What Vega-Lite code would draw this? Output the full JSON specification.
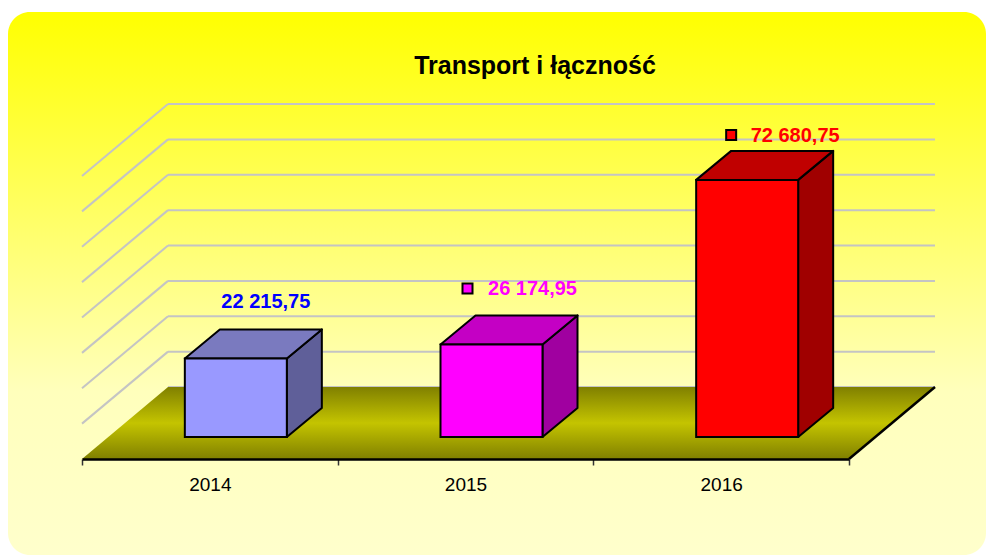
{
"$schema":"https://vega.github.io/schema/vega-lite/v6.json",
"width":978,"height":543,
"padding":{"left":8,"top":12,"right":0,"bottom":0},
"autosize":{"type":"none"},
"background":"white",
"view":{"stroke":null,"cornerRadius":22,"fill":{"gradient":"linear","x1":0,"y1":0,"x2":0,"y2":1,"stops":[{"offset":0,"color":"#FFFF00"},{"offset":0.7,"color":"#FFFFBC"},{"offset":1,"color":"#FFFFCC"}]}},
"title":{"text":"Transport i łączność","font":"Liberation Sans","fontSize":25,"fontWeight":"bold","color":"black","anchor":"middle","dx":38,"offset":-87,"baseline":"alphabetic"},
"datasets":{
"bars":[{"year":2014,"value":22215.75,"label":"22 215,75"},{"year":2015,"value":26174.95,"label":"26 174,95"},{"year":2016,"value":72680.75,"label":"72 680,75"}],
"grid":[{"v":0},{"v":10000},{"v":20000},{"v":30000},{"v":40000},{"v":50000},{"v":60000},{"v":70000},{"v":80000}]
},
"encoding":{
"y":{"field":"value","type":"quantitative","stack":null,"title":null,"axis":null,"scale":{"domain":[0,80000],"range":[447,164],"nice":false,"zero":false}}
},
"layer":[
{"data":{"name":"grid"},"mark":{"type":"rule","stroke":"#C4C4C4","strokeWidth":2,"xOffset":86,"x2Offset":86,"yOffset":-72,"y2Offset":-72},
 "encoding":{"x":{"datum":2013.5,"type":"quantitative","title":null,"scale":{"domain":[2013.5,2016.5],"range":[74,841],"nice":false,"zero":false,"padding":0},
"axis":{"title":null,"values":[2013.5,2014,2014.5,2015,2015.5,2016,2016.5],"orient":"bottom","offset":-96,"zindex":1,"grid":false,"domainColor":"black","domainWidth":2.5,"tickColor":"#333333","tickWidth":1.5,"tickSize":6,"tickOpacity":{"condition":{"test":"datum.value % 1 == 0","value":0},"value":1},"labelExpr":"datum.value % 1 == 0 ? '' + datum.value : ''","labelOverlap":false,"labelFont":"Liberation Sans","labelFontSize":19,"labelColor":"black","labelPadding":10,"labelFlush":false}},"x2":{"datum":2016.5},"y":{"field":"v","type":"quantitative"}}},
{"data":{"name":"grid"},"transform":[{"filter":"datum.v > 0"}],"mark":{"type":"rule","stroke":"#C4C4C4","strokeWidth":2,"x2Offset":86,"y2Offset":-72},
 "encoding":{"x":{"datum":2013.5,"type":"quantitative","title":null},"x2":{"datum":2013.5},"y":{"field":"v","type":"quantitative"},"y2":{"field":"v"}}},
{"data":{"values":[{"v":0}]},"mark":{"type":"point","filled":true,"opacity":1,"size":4,"shape":"M0,0L767,0L853,-72L86,-72Z","fill":{"gradient":"linear","x1":0,"y1":0,"x2":0,"y2":1,"stops":[{"offset":0,"color":"#808000"},{"offset":0.5,"color":"#C4C400"},{"offset":1,"color":"#808000"}]}},
 "encoding":{"x":{"datum":2013.5,"type":"quantitative","title":null},"y":{"field":"v","type":"quantitative"}}},
{"data":{"values":[{"v":0}]},"mark":{"type":"rule","stroke":"black","strokeWidth":2.5,"x2Offset":86,"y2Offset":-72},
 "encoding":{"x":{"datum":2016.5,"type":"quantitative","title":null},"x2":{"datum":2016.5},"y":{"field":"v","type":"quantitative"},"y2":{"field":"v"}}},
{"data":{"name":"bars"},"mark":{"type":"point","filled":true,"opacity":1,"size":4,"stroke":"black","strokeWidth":2,"strokeJoin":"round","xOffset":77,"yOffset":-22,"shape":{"expr":"'M0,0L35,-29L35,' + (scale('y',0) - scale('y',datum.value) - 29) + 'L0,' + (scale('y',0) - scale('y',datum.value)) + 'Z'"}},
 "encoding":{"x":{"field":"year","type":"quantitative","title":null},"color":{"field":"year","type":"nominal","legend":null,"scale":{"domain":[2014,2015,2016],"range":["#5F5F99","#A000A0","#A00000"]}}}},
{"data":{"name":"bars"},"mark":{"type":"point","filled":true,"opacity":1,"size":4,"stroke":"black","strokeWidth":2,"strokeJoin":"round","xOffset":26,"yOffset":-22,"shape":"M-51,0L51,0L86,-29L-16,-29Z"},
 "encoding":{"x":{"field":"year","type":"quantitative","title":null},"color":{"field":"year","type":"nominal","legend":null,"scale":{"domain":[2014,2015,2016],"range":["#7A7ABF","#C400C4","#C00000"]}}}},
{"data":{"name":"bars"},"mark":{"type":"bar","orient":"vertical","width":102,"stroke":"black","strokeWidth":2,"xOffset":26,"yOffset":-22,"y2Offset":-22},
 "encoding":{"x":{"field":"year","type":"quantitative","title":null},"y2":{"datum":0},"color":{"field":"year","type":"nominal","legend":null,"scale":{"domain":[2014,2015,2016],"range":["#9999FF","#FF00FF","#FF0000"]}}}},
{"data":{"name":"bars"},"transform":[{"filter":"datum.year > 2014"}],"mark":{"type":"point","shape":"square","filled":true,"opacity":1,"size":100,"stroke":"black","strokeWidth":2,"xOffset":{"expr":"datum.year == 2015 ? 2 : 10"},"yOffset":{"expr":"datum.year == 2015 ? -78 : -67"}},
 "encoding":{"x":{"field":"year","type":"quantitative","title":null},"color":{"field":"year","type":"nominal","legend":null,"scale":{"domain":[2015,2016],"range":["#FF00FF","#FF0000"]}}}},
{"data":{"name":"bars"},"mark":{"type":"text","font":"Liberation Sans","fontWeight":"bold","fontSize":20,"align":"center","baseline":"middle","dx":{"expr":"datum.year == 2014 ? 56 : datum.year == 2015 ? 67 : 74"},"dy":{"expr":"datum.year == 2014 ? -78 : datum.year == 2015 ? -77 : -66"}},
 "encoding":{"x":{"field":"year","type":"quantitative","title":null},"text":{"field":"label"},"color":{"field":"year","type":"nominal","legend":null,"scale":{"domain":[2014,2015,2016],"range":["#0000FF","#FF00FF","#FF0000"]}}}}
],
"resolve":{"scale":{"color":"independent"}}
}
